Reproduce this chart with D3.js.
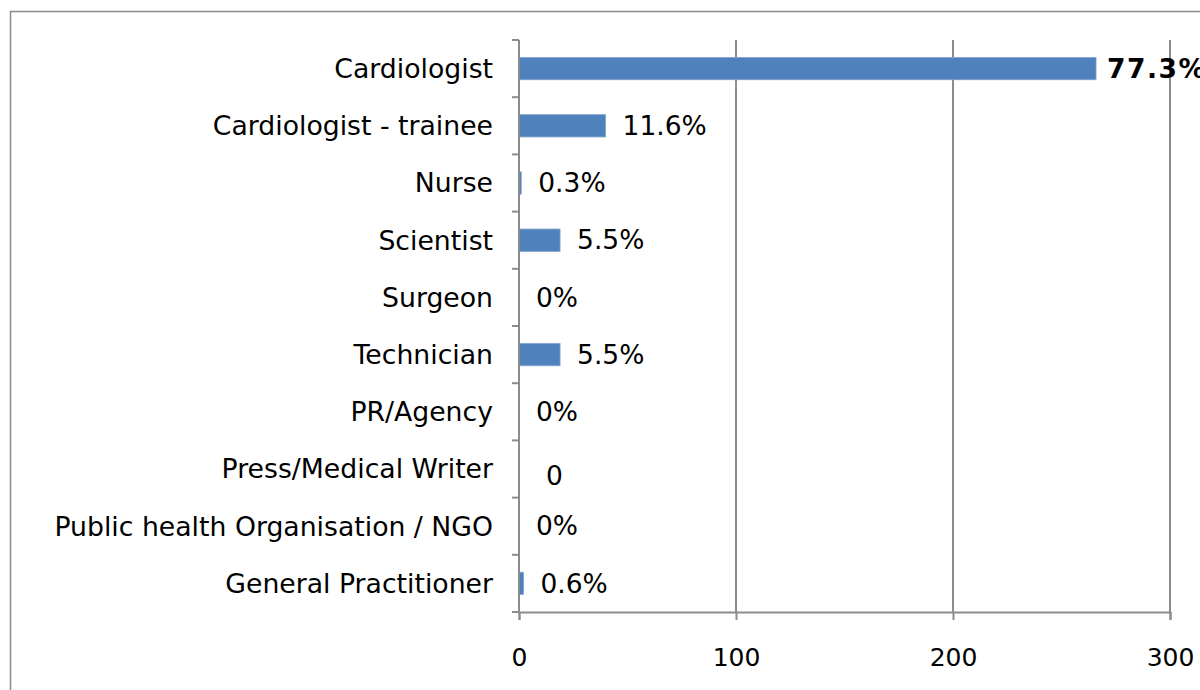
<!DOCTYPE html>
<html>
<head>
<meta charset="utf-8">
<script src="https://cdn.jsdelivr.net/npm/d3@7"></script>
<style>
  html, body { margin: 0; padding: 0; background: #fff; overflow: hidden; }
  svg { display: block; font-family: "DejaVu Sans", Verdana, sans-serif; }
</style>
</head>
<body>
<svg id="chart" width="1200" height="690"></svg>
<script>
// Respondents by profession
const categories = [
  "Cardiologist",
  "Cardiologist - trainee",
  "Nurse",
  "Scientist",
  "Surgeon",
  "Technician",
  "PR/Agency",
  "Press/Medical Writer",
  "Public health Organisation / NGO",
  "General Practitioner"
];
// Share of respondents (%) per profession
const shares = [77.3, 11.6, 0.3, 5.5, 0, 5.5, 0, 0, 0, 0.6];
// Data labels as printed next to each bar
const valueLabels = ["77.3%", "11.6%", "0.3%", "5.5%", "0%", "5.5%", "0%", "0", "0%", "0.6%"];
const respondents = 344;
const xTicks = [0, 100, 200, 300];

const counts = shares.map(s => s * respondents / 100);

const svg = d3.select("#chart");
const plotLeft = 519, plotRight = 1170, plotTop = 40, plotBottom = 612;
const gridColor = "#8c8c8c";
const catFont = 26.7, valueFont = 26.5, tickFont = 25;

// outer chart border
svg.append("rect")
  .attr("x", 10.5).attr("y", 11.5)
  .attr("width", 1300).attr("height", 800)
  .attr("fill", "none").attr("stroke", gridColor).attr("stroke-width", 1.5);

const x = d3.scaleLinear().domain([0, 300]).range([plotLeft, plotRight]);
const y = d3.scaleBand().domain(categories).range([plotTop, plotBottom]).paddingInner(0).paddingOuter(0);

// vertical gridlines
svg.append("g").selectAll("line")
  .data(xTicks.filter(t => t > 0))
  .join("line")
  .attr("x1", d => x(d)).attr("x2", d => x(d))
  .attr("y1", plotTop).attr("y2", plotBottom)
  .attr("stroke", gridColor).attr("stroke-width", 2);

// bars
const barH = y.bandwidth() * 0.39;
svg.append("g").selectAll("rect")
  .data(categories)
  .join("rect")
  .attr("x", x(0))
  .attr("y", d => y(d) + (y.bandwidth() - barH) / 2)
  .attr("width", (d, i) => x(counts[i]) - x(0))
  .attr("height", barH)
  .attr("fill", "#4f81bd")
  .attr("stroke", "#7fa3cf")
  .attr("stroke-width", (d, i) => counts[i] > 0 ? 0.8 : 0);

// x axis
const xAxis = d3.axisBottom(x).tickValues(xTicks).tickSize(8).tickFormat(d3.format("d"));
const gx = svg.append("g").attr("transform", `translate(0,${plotBottom})`).call(xAxis);
gx.select(".domain").attr("stroke", gridColor).attr("stroke-width", 2);
gx.selectAll(".tick line").attr("stroke", gridColor).attr("stroke-width", 2);
gx.selectAll(".tick text")
  .attr("y", 45).attr("dy", "0.35em")
  .attr("font-size", tickFont).attr("font-family", "DejaVu Sans, Verdana, sans-serif")
  .attr("fill", "#000");

// y axis with ticks at category boundaries
svg.append("line")
  .attr("x1", plotLeft).attr("x2", plotLeft).attr("y1", plotTop).attr("y2", plotBottom)
  .attr("stroke", gridColor).attr("stroke-width", 2);
const bounds = categories.map(c => y(c)).concat([plotBottom]);
svg.append("g").selectAll("line")
  .data(bounds)
  .join("line")
  .attr("x1", plotLeft - 7).attr("x2", plotLeft)
  .attr("y1", d => d).attr("y2", d => d)
  .attr("stroke", gridColor).attr("stroke-width", 2);

// category labels
svg.append("g").selectAll("text")
  .data(categories)
  .join("text")
  .attr("x", 493)
  .attr("y", d => y(d) + y.bandwidth() / 2)
  .attr("dy", "0.35em")
  .attr("text-anchor", "end")
  .attr("font-size", catFont)
  .attr("fill", "#000")
  .text(d => d);

// value labels (the leading share is emphasised in bold)
svg.append("g").selectAll("text")
  .data(categories)
  .join("text")
  .attr("x", (d, i) => {
    const end = x(counts[i]);
    if (i === 0) return end + 11;
    if (valueLabels[i] === "0") return end + 27;
    return end + 17;
  })
  .attr("y", (d, i) => y(d) + y.bandwidth() / 2 + (valueLabels[i] === "0" ? 7 : 0))
  .attr("dy", "0.35em")
  .attr("font-size", valueFont)
  .attr("font-weight", (d, i) => i === 0 ? "bold" : "normal")
  .attr("letter-spacing", (d, i) => i === 0 ? 1.5 : 0)
  .attr("fill", "#000")
  .text((d, i) => valueLabels[i]);
</script>
</body>
</html>
